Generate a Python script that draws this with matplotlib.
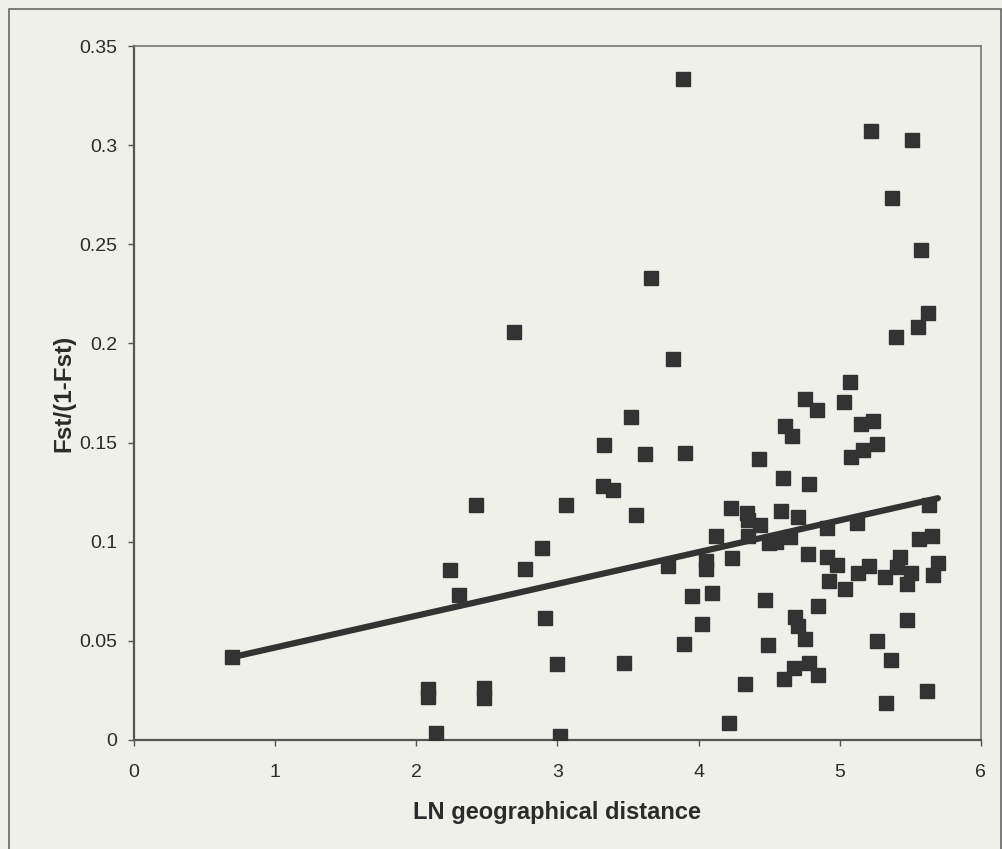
import numpy as np
import matplotlib.pyplot as plt
from matplotlib.patches import Rectangle

# LN geographical distance vs Fst/(1-Fst)
ln_distance = [
    3.887, 5.220, 5.511, 5.369, 5.574, 3.660, 5.624, 5.553, 5.397, 2.695,
    3.816, 5.071, 4.752, 4.837, 5.028, 4.610, 4.660, 5.149, 5.234, 5.078,
    5.163, 5.262, 3.518, 3.333, 3.617, 3.901, 4.426, 4.596, 4.780, 3.326,
    3.390, 3.057, 3.553, 2.426, 2.887, 2.773, 2.241, 2.305, 2.915, 4.227,
    4.340, 4.348, 4.433, 4.582, 4.702, 4.121, 4.348, 4.496, 4.546, 4.645,
    4.908, 5.121, 5.631, 5.560, 5.652, 3.780, 4.050, 4.050, 4.234, 4.773,
    4.908, 4.979, 5.128, 5.206, 5.319, 5.426, 5.404, 5.504, 5.475, 5.695,
    5.660, 4.922, 5.035, 3.950, 4.092, 4.468, 4.844, 4.681, 4.702, 4.752,
    5.475, 4.021, 3.894, 4.489, 5.262, 5.362, 4.674, 4.603, 4.780, 4.844,
    4.326, 5.617, 5.326, 4.213, 3.000, 3.468, 0.695, 2.085, 2.085, 2.482,
    2.482, 2.142, 3.021,
]
fst_ratio = [
    0.3333, 0.3072, 0.3026, 0.2734, 0.2472, 0.2331, 0.2155, 0.2085, 0.2034, 0.2059,
    0.1923, 0.1803, 0.1722, 0.1662, 0.1707, 0.1586, 0.1531, 0.1596, 0.1611, 0.1425,
    0.1465, 0.1495, 0.1631, 0.1490, 0.1440, 0.1445, 0.1415, 0.1319, 0.1289, 0.1279,
    0.1259, 0.1183, 0.1133, 0.1183, 0.0967, 0.0861, 0.0856, 0.0730, 0.0614, 0.1168,
    0.1143, 0.1108, 0.1083, 0.1153, 0.1123, 0.1027, 0.1027, 0.0992, 0.0997, 0.1022,
    0.1067, 0.1093, 0.1183, 0.1012, 0.1027, 0.0876, 0.0901, 0.0861, 0.0916, 0.0937,
    0.0921, 0.0881, 0.0841, 0.0876, 0.0821, 0.0921, 0.0871, 0.0841, 0.0785, 0.0891,
    0.0831, 0.0801, 0.0760, 0.0725, 0.0740, 0.0705, 0.0675, 0.0619, 0.0574, 0.0509,
    0.0604, 0.0584, 0.0483, 0.0478, 0.0498, 0.0403, 0.0363, 0.0307, 0.0388, 0.0327,
    0.0282, 0.0247, 0.0186, 0.0086, 0.0383, 0.0388, 0.0418, 0.0257, 0.0217, 0.0262,
    0.0211, 0.0035, 0.0020,
]

# linear trend as drawn on the original
trend_slope = 0.01604
trend_intercept = 0.0306

x_ticks = [0, 1, 2, 3, 4, 5, 6]
y_ticks = [0, 0.05, 0.1, 0.15, 0.2, 0.25, 0.3, 0.35]
y_tick_labels = ['0', '0.05', '0.1', '0.15', '0.2', '0.25', '0.3', '0.35']

paper = '#f0f0ea'
ink = '#333333'

plt.rcParams['font.family'] = ['Liberation Sans', 'DejaVu Sans']

fig = plt.figure(figsize=(10.03, 8.49), dpi=100, facecolor=paper)
ax = fig.add_axes([0.1336, 0.1284, 0.8444, 0.8174])
ax.set_facecolor(paper)

# outer chart-area frame
fig.patches.append(Rectangle((9 / 1003, -0.05), 992 / 1003, 1 - 9 / 849 + 0.05,
                             transform=fig.transFigure, fill=False,
                             edgecolor='#666666', linewidth=1.2))

ax.plot(ln_distance, fst_ratio, linestyle='none', marker='s', markersize=9.5,
        color=ink, markeredgecolor=ink, zorder=3)

xs = np.array([min(ln_distance), max(ln_distance)])
ax.plot(xs, trend_slope * xs + trend_intercept, color=ink, linewidth=4.5,
        solid_capstyle='round', zorder=4)

ax.set_xlim(0, 6)
ax.set_ylim(0, 0.35)
ax.set_xticks(x_ticks)
ax.set_yticks(y_ticks)
ax.set_yticklabels(y_tick_labels)
ax.tick_params(direction='out', length=4, width=1, color='#555555',
               labelsize=14, labelcolor='#2b2b2b')
ax.tick_params(axis='y', pad=8)
ax.tick_params(axis='x', pad=13)

for side in ['left', 'bottom']:
    ax.spines[side].set_color('#555555')
    ax.spines[side].set_linewidth(1.6)
for side in ['top', 'right']:
    ax.spines[side].set_color('#777777')
    ax.spines[side].set_linewidth(1.2)

ax.set_xlabel('LN geographical distance', fontsize=17, fontweight='bold',
              color='#2b2b2b', labelpad=15)
ax.set_ylabel('Fst/(1-Fst)', fontsize=17.5, fontweight='bold',
              color='#2b2b2b', labelpad=3)

fig.savefig('out.png', dpi=100, facecolor=paper)
